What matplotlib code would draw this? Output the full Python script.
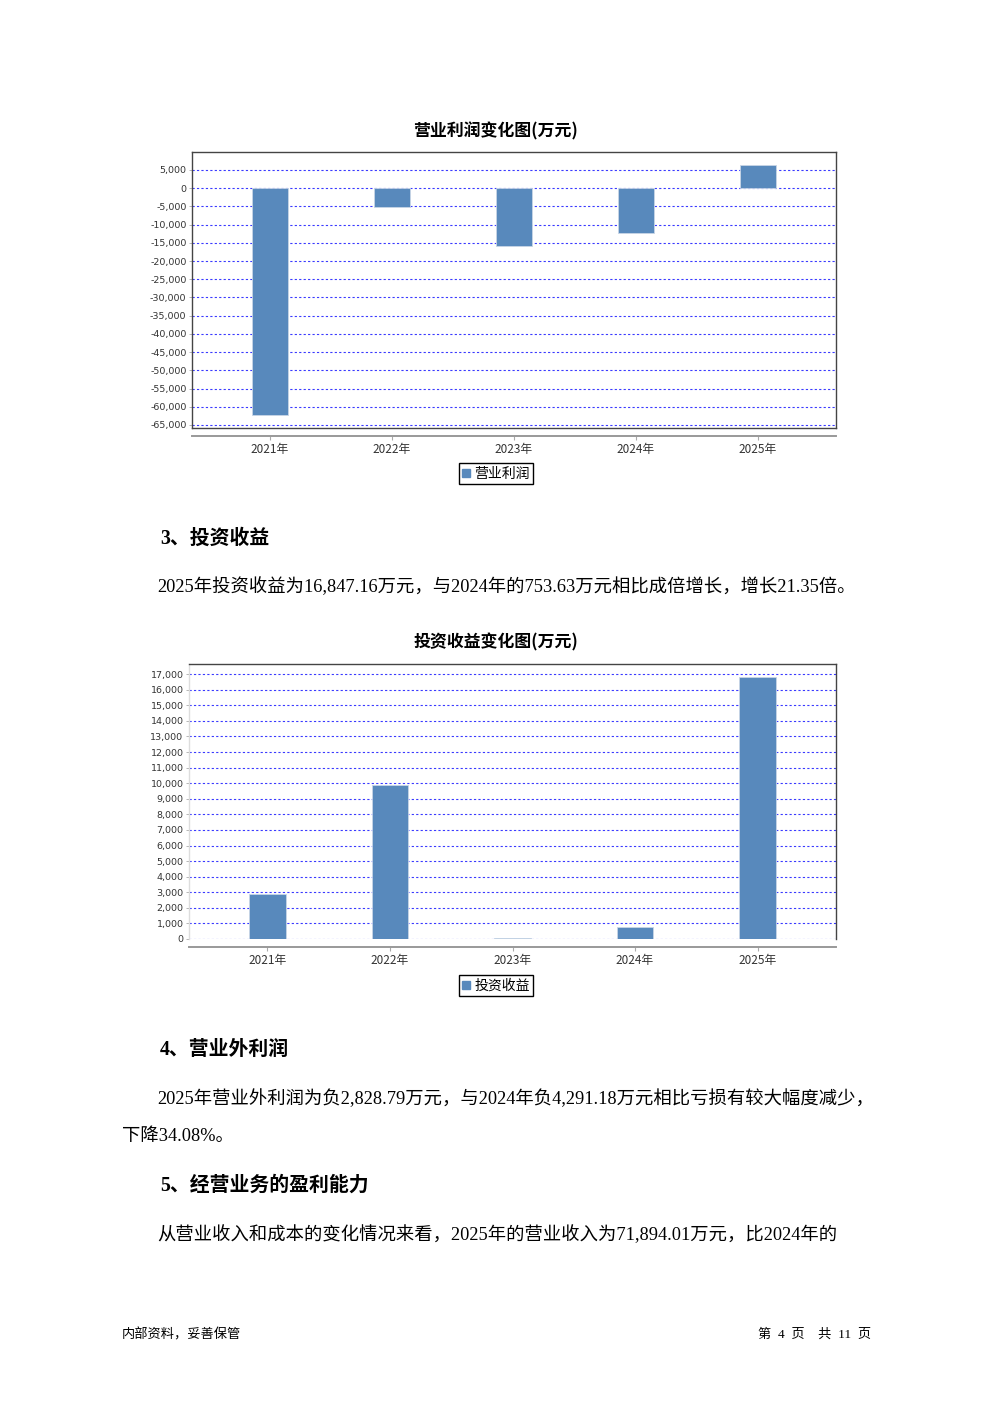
import matplotlib
matplotlib.use("Agg")
import matplotlib.pyplot as plt
from matplotlib.lines import Line2D
from matplotlib.ticker import FuncFormatter, MultipleLocator

plt.rcParams["font.family"] = ["Noto Sans CJK SC", "DejaVu Sans"]

# 数据
years = ["2021年", "2022年", "2023年", "2024年", "2025年"]
op_profit = [-62150, -5230, -15980, -12300, 6340]        # 营业利润(万元)
invest_income = [2880, 9890, 80, 753.63, 16847.16]      # 投资收益(万元)

W, H = 992, 1403
BAR = "#5889BC"
GRID = "#3a3aff"

fig = plt.figure(figsize=(W / 100, H / 100), dpi=100)


def px_axes(x0, y0, x1, y1):
    # 用像素坐标建立坐标轴
    return fig.add_axes([x0 / W, 1 - y1 / H, (x1 - x0) / W, (y1 - y0) / H])


def fmt(v, pos):
    return f"{int(round(v)):,}"


def bar_chart(ax, vals, ylim, step, legend_label, legend_y, box_bottom=True, left_col="#444444"):
    x = list(range(len(years)))
    ax.bar(x, vals, width=0.3, color=BAR, edgecolor="#c8d6e6", linewidth=0.6, zorder=3)
    ax.set_xlim(-0.64, len(years) - 0.36)
    ax.set_ylim(*ylim)
    ax.yaxis.set_major_locator(MultipleLocator(step))
    ax.yaxis.set_major_formatter(FuncFormatter(fmt))
    ax.grid(axis="y", color=GRID, linestyle=(0, (2, 2)), linewidth=0.8)
    ax.set_axisbelow(True)
    ax.set_xticks(x)
    ax.set_xticklabels(years)
    ax.tick_params(axis="x", length=3, width=0.8, color="#aaaaaa", pad=1.5,
                   labelsize=8.5, labelcolor="#333333")
    ax.tick_params(axis="y", length=2, width=0.6, color="#aaaaaa", pad=2,
                   labelsize=6.8, labelcolor="#333333")
    for lab in ax.get_yticklabels():
        lab.set_family(["DejaVu Sans"])
    for s in ["top", "right"]:
        ax.spines[s].set_color("#444444")
        ax.spines[s].set_linewidth(1.0)
    ax.spines["left"].set_color(left_col)
    ax.spines["left"].set_linewidth(1.0)
    ax.spines["bottom"].set_position(("outward", 6))
    ax.spines["bottom"].set_color("#999999")
    ax.spines["bottom"].set_linewidth(1.4)
    if box_bottom:
        ax.plot([0, 1], [0, 0], transform=ax.transAxes, color="#444444",
                linewidth=1.0, clip_on=False, zorder=5)
    h = Line2D([], [], marker="s", linestyle="none", color=BAR, markersize=6)
    fig.legend(handles=[h], labels=[legend_label], loc="center",
               bbox_to_anchor=(0.5, 1 - legend_y / H), fontsize=10,
               frameon=True, fancybox=False, edgecolor="black", framealpha=1,
               handlelength=0.6, handletextpad=0.3, borderpad=0.25,
               borderaxespad=0)


# 图1 营业利润
fig.text(496 / W, 1 - 131.5 / H, "营业利润变化图(万元)", ha="center", va="center",
         fontsize=12.2, fontweight="bold")
ax1 = px_axes(192, 152, 836, 428)
bar_chart(ax1, op_profit, (-65830, 9920), 5000, "营业利润", 473.5)

# 图2 投资收益
fig.text(496 / W, 1 - 642.5 / H, "投资收益变化图(万元)", ha="center", va="center",
         fontsize=12.2, fontweight="bold")
ax2 = px_axes(189, 664, 836, 939)
bar_chart(ax2, invest_income, (0, 17650), 1000, "投资收益", 985.5,
          box_bottom=False, left_col="#dddddd")

# 正文
serif = ["Liberation Serif", "Noto Sans CJK SC"]
body = 13.2
head = 14.3
fig.text(160 / W, 1 - 539 / H, "3、投资收益", fontsize=head, fontweight="bold",
         va="center", family=serif)
fig.text(157 / W, 1 - 587 / H,
         "2025年投资收益为16,847.16万元，与2024年的753.63万元相比成倍增长，增长21.35倍。",
         fontsize=body, va="center", family=serif)
fig.text(160 / W, 1 - 1050 / H, "4、营业外利润", fontsize=head, fontweight="bold",
         va="center", family=serif)
fig.text(157 / W, 1 - 1099 / H,
         "2025年营业外利润为负2,828.79万元，与2024年负4,291.18万元相比亏损有较大幅度减少，",
         fontsize=body, va="center", family=serif)
fig.text(122 / W, 1 - 1136 / H, "下降34.08%。", fontsize=body, va="center", family=serif)
fig.text(160 / W, 1 - 1186 / H, "5、经营业务的盈利能力", fontsize=head, fontweight="bold",
         va="center", family=serif)
fig.text(157 / W, 1 - 1235 / H,
         "从营业收入和成本的变化情况来看，2025年的营业收入为71,894.01万元，比2024年的",
         fontsize=body, va="center", family=serif)

# 页脚
fig.text(122 / W, 1 - 1334.5 / H, "内部资料，妥善保管", fontsize=9.5, va="center", family=serif)
fig.text(871 / W, 1 - 1334.5 / H, "第  4  页    共  11  页", fontsize=9.5, va="center", ha="right",
         family=serif)

fig.savefig("out.png", dpi=100)
